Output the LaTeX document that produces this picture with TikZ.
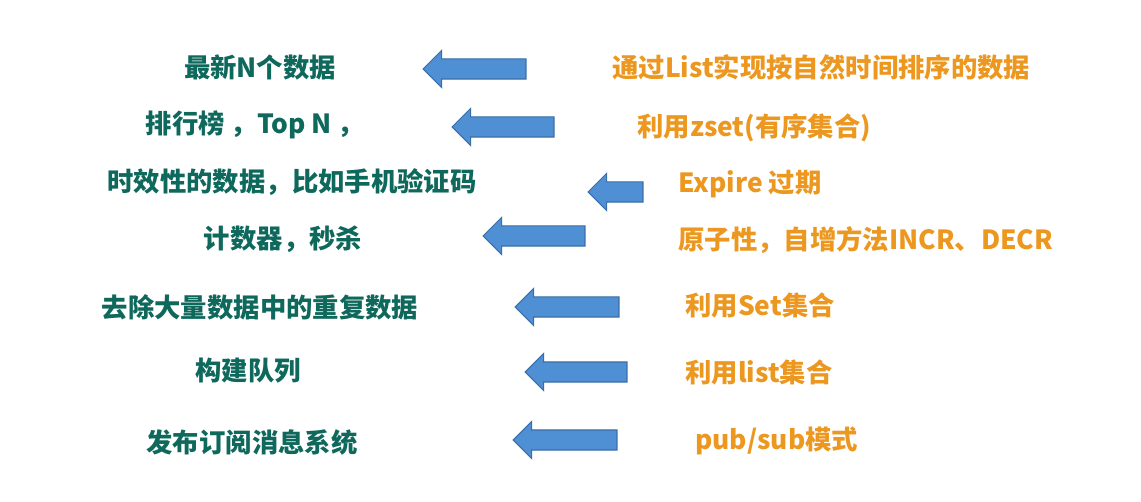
\documentclass[tikz,border=0pt]{standalone}
\usepackage{fontspec}
\newfontfamily\cjk{Noto Sans CJK SC}
\usepackage{tikz}
\usetikzlibrary{shapes.arrows}

\definecolor{useteal}{RGB}{14,104,92}
\definecolor{howorange}{RGB}{236,152,32}
\definecolor{arrowfill}{RGB}{79,143,212}
\definecolor{arrowline}{RGB}{58,110,168}

\begin{document}
\begin{tikzpicture}[x=0.02cm, y=-0.02cm,
	every node/.style={font=\cjk\bfseries\fontsize{15pt}{18pt}\selectfont, inner sep=0pt},
	use/.style={text=useteal, anchor=center},
	how/.style={text=howorange, anchor=west},
	larrow/.style={draw=arrowline, line width=0.6pt, fill=arrowfill, shape=single arrow, shape border rotate=180, single arrow head extend=0.17cm, inner sep=0.19cm, minimum height=#1}]
	\useasboundingbox (0,0) rectangle (1141,502);
	% what it is used for
	\node[use] (l1) at (260,67) {最新N个数据};
	\node[use] (l2) at (255,125) {排行榜 ，Top N ，};
	\node[use] (l3) at (292,182) {时效性的数据，比如手机验证码};
	\node[use] (l4) at (283,239) {计数器，秒杀};
	\node[use] (l5) at (260,307) {去除大量数据中的重复数据};
	\node[use] (l6) at (248,371) {构建队列};
	\node[use] (l7) at (252,442) {发布订阅消息系统};
	% how redis does it
	\node[how] (r1) at (612,67) {通过List实现按自然时间排序的数据};
	\node[how] (r2) at (637,128) {利用zset(有序集合)};
	\node[how] (r3) at (678,184) {Expire 过期};
	\node[how] (r4) at (678,240) {原子性，自增方法INCR、DECR};
	\node[how] (r5) at (685,305) {利用Set集合};
	\node[how] (r6) at (685,372) {利用list集合};
	\node[how] (r7) at (695,441) {pub/sub模式};
	% block arrows
	\node[larrow=2.06cm] (a1) at (479.5,69) {};
	\node[larrow=2.04cm] (a2) at (508,127) {};
	\node[larrow=1.10cm] (a3) at (620.5,192) {};
	\node[larrow=2.04cm] (a4) at (539,236) {};
	\node[larrow=2.08cm] (a5) at (572,307) {};
	\node[larrow=2.04cm] (a6) at (581,372) {};
	\node[larrow=2.08cm] (a7) at (570,440) {};
\end{tikzpicture}
\end{document}
